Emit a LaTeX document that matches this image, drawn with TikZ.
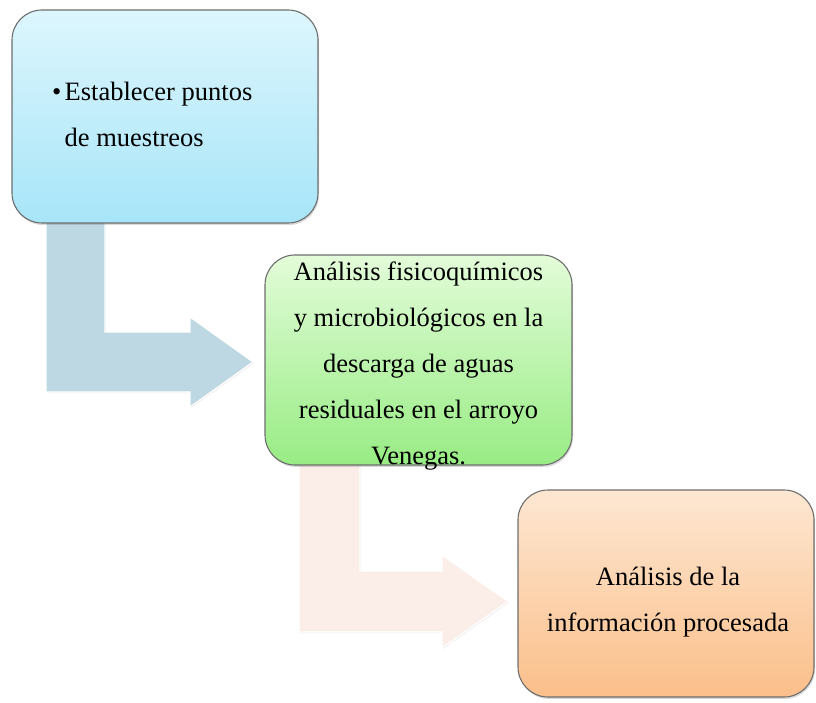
\documentclass[tikz,border=0pt]{standalone}
\usepackage{fontspec}
\setmainfont{Liberation Serif}
\usetikzlibrary{shadows}
\definecolor{boxline}{HTML}{6E6E6E}
\definecolor{bluetop}{HTML}{DDF6FD}
\definecolor{bluebot}{HTML}{A7E5F8}
\definecolor{greentop}{HTML}{E3FCD9}
\definecolor{greenmid}{HTML}{C8F8B8}
\definecolor{greenbot}{HTML}{98EC84}
\definecolor{orangetop}{HTML}{FDE7D2}
\definecolor{orangebot}{HTML}{FBBF8A}
\definecolor{arrowblue}{HTML}{BDD8E2}
\definecolor{arrowpink}{HTML}{FBEEE9}
\begin{document}
\begin{tikzpicture}[x=1pt,y=-1pt,
  box/.style={draw=boxline, line width=1.1pt, rounded corners=30pt, inner sep=0pt,
    drop shadow={opacity=0.3, shadow xshift=1pt, shadow yshift=-2pt}},
  txt/.style={font=\fontsize{26.5}{46}\selectfont, inner sep=0pt, align=center},
  blockarrow/.style={draw=white, line width=1.2pt, line join=miter,
    drop shadow={opacity=0.15, shadow xshift=1pt, shadow yshift=-1pt}}]
\useasboundingbox (0,0) rectangle (816,703);

% block arrows (behind the boxes)
\path[blockarrow, fill=arrowblue]
  (46,200) -- (105,200) -- (105,332) -- (190,332) -- (190,317) -- (253,362)
  -- (190,407) -- (190,392) -- (46,392) -- cycle;
\path[blockarrow, fill=arrowpink]
  (299,440) -- (360,440) -- (360,571) -- (442,571) -- (442,555) -- (508,601.5)
  -- (442,648) -- (442,632) -- (299,632) -- cycle;

% boxes
\node[box, top color=bluetop, bottom color=bluebot,
  minimum width=306pt, minimum height=213pt] (b1) at (165,116.5) {};
\node[box, top color=greentop, middle color=greenmid, bottom color=greenbot,
  minimum width=307pt, minimum height=210pt] (b2) at (418.5,360) {};
\node[box, top color=orangetop, bottom color=orangebot,
  minimum width=296pt, minimum height=207pt] (b3) at (666,593.5) {};

% texts
\node[txt, align=left, anchor=west] (t1) at (52,114)
  {\makebox[12.5pt][l]{\textbullet}Establecer puntos\\\hspace*{12.5pt}de muestreos};
\node[txt] (t2) at (418.5,366)
  {Análisis fisicoquímicos\\y microbiológicos en la\\descarga de aguas\\residuales en el arroyo\\Venegas.};
\node[txt] (t3) at (668,602) {Análisis de la\\información procesada};
\end{tikzpicture}
\end{document}
